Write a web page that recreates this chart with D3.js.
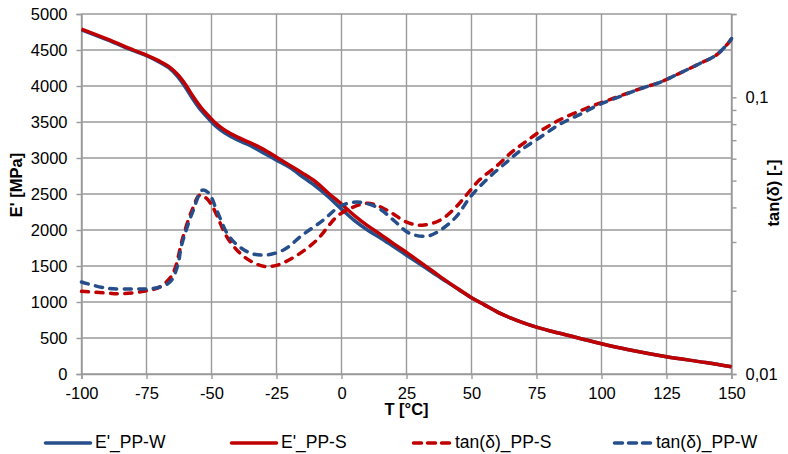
<!DOCTYPE html>
<html><head><meta charset="utf-8">
<script src="https://cdn.jsdelivr.net/npm/d3@7"></script>
<style>body{margin:0;background:#fff}svg{display:block}text{font-family:"Liberation Sans",Arial,sans-serif;fill:#000}</style>
</head><body><svg id="c" width="788" height="454"></svg>
<script>
// E' (MPa) data: [T, value]
const ePPW = [[-100,4780],[-90,4640],[-80,4490],[-75,4420],[-70,4330],[-66,4240],[-63,4130],[-60,3980],[-57,3810],[-54,3660],[-51,3540],[-48,3430],[-45,3350],[-40,3250],[-35,3170],[-30,3070],[-25,2970],[-20,2870],[-15,2740],[-10,2610],[-5,2460],[0,2290],[5,2130],[10,2000],[15,1890],[20,1770],[25,1650],[30,1530],[35,1410],[40,1290],[45,1175],[50,1060],[55,960],[60,860],[65,780],[70,710],[75,650],[80,600],[90,510],[100,420],[110,340],[125,240],[140,160],[150,100]];
const ePPS = [[-100,4790],[-90,4650],[-80,4500],[-75,4430],[-70,4345],[-66,4260],[-63,4160],[-60,4020],[-57,3850],[-54,3700],[-51,3580],[-48,3470],[-45,3390],[-40,3290],[-35,3210],[-30,3120],[-25,3010],[-20,2900],[-15,2790],[-10,2670],[-5,2510],[0,2360],[5,2200],[10,2060],[15,1940],[20,1810],[25,1690],[30,1560],[35,1430],[40,1300],[45,1180],[50,1060],[55,960],[60,860],[65,780],[70,710],[75,650],[80,600],[90,510],[100,420],[110,340],[125,240],[140,160],[150,100]];
// tan(delta) data: [T, value]
const tanPPS = [[-100,0.0199],[-90,0.0196],[-85,0.0195],[-76,0.0199],[-70,0.0206],[-66,0.0222],[-64,0.0241],[-61,0.0312],[-57.5,0.0391],[-54.5,0.0443],[-52,0.0432],[-49.5,0.0401],[-44,0.0312],[-39,0.0273],[-35,0.0256],[-30,0.0245],[-25,0.0247],[-17,0.0269],[-9.5,0.0305],[-2,0.0369],[2,0.0391],[10,0.0414],[17.5,0.0391],[25,0.0354],[31,0.0345],[38,0.0360],[44,0.0401],[48,0.0443],[53,0.0502],[60,0.0568],[65,0.0628],[70,0.0682],[77,0.0760],[84,0.0830],[92,0.0895],[99,0.0950],[107,0.1010],[115,0.1075],[122.5,0.1133],[130,0.1221],[138,0.1327],[144,0.1418],[149,0.158],[150,0.163]];
const tanPPW = [[-100,0.0215],[-90,0.0204],[-80,0.0203],[-72,0.0204],[-66,0.0215],[-63,0.0247],[-61.5,0.0292],[-57,0.0391],[-53.5,0.0462],[-51,0.0450],[-48,0.0391],[-43,0.0312],[-36,0.0276],[-30,0.0269],[-22.5,0.0280],[-15,0.0318],[-7,0.0360],[-0.5,0.0404],[6,0.0418],[13.5,0.0401],[20,0.0360],[26,0.0323],[33,0.0315],[38,0.0331],[44,0.0369],[49.5,0.0436],[56,0.0506],[63.5,0.0583],[69,0.0644],[77,0.0723],[84,0.0800],[92,0.0870],[99,0.0940],[107,0.1005],[115,0.1075],[122.5,0.1133],[130,0.1221],[138,0.1327],[144,0.1418],[149,0.158],[150,0.163]];
const xTicks = [-100,-75,-50,-25,0,25,50,75,100,125,150];
const yTicks = [0,500,1000,1500,2000,2500,3000,3500,4000,4500,5000];
const rMajor = [0.01,0.1];
const rMinor = [0.02,0.03,0.04,0.05,0.06,0.07,0.08,0.09,0.2];
const legendItems = [
  {name:"E'_PP-W", color:"#254E8A", dash:false},
  {name:"E'_PP-S", color:"#C00000", dash:false},
  {name:"tan(δ)_PP-S", color:"#C00000", dash:true},
  {name:"tan(δ)_PP-W", color:"#254E8A", dash:true}
];
const legendX = [44, 230, 412, 613];

const L=81.5, R=731.5, T=14, B=374;
const svg = d3.select("#c");
const x = d3.scaleLinear().domain([-100,150]).range([L,R]);
const y = d3.scaleLinear().domain([0,5000]).range([B,T]);
const yr = d3.scaleLog().domain([0.01,0.2]).range([B,T]);
const grid = "#9A9A9A";

// gridlines
svg.append("g").selectAll("line").data(xTicks).join("line")
  .attr("x1",d=>x(d)).attr("x2",d=>x(d)).attr("y1",T).attr("y2",B)
  .attr("stroke",grid).attr("stroke-width",1.4);
svg.append("g").selectAll("line").data(yTicks).join("line")
  .attr("x1",L).attr("x2",R).attr("y1",d=>y(d)).attr("y2",d=>y(d))
  .attr("stroke",grid).attr("stroke-width",1.4);

// axes
const fs = 16.5;
const ax = svg.append("g").attr("transform",`translate(0,${B})`).call(d3.axisBottom(x).tickValues(xTicks).tickSize(5).tickPadding(5).tickFormat(d=>d));
const ay = svg.append("g").attr("transform",`translate(${L},0)`).call(d3.axisLeft(y).tickValues(yTicks).tickSize(5).tickPadding(9).tickFormat(d=>d));
const ar = svg.append("g").attr("transform",`translate(${R},0)`).call(d3.axisRight(yr).tickValues(rMajor.concat(rMinor)).tickSize(5).tickPadding(9).tickFormat(d=>rMajor.includes(d)?String(d).replace(".",","):""));
[ax,ay,ar].forEach(g=>{
  g.selectAll("path.domain").attr("stroke",grid).attr("stroke-width",1.4);
  g.selectAll(".tick line").attr("stroke",grid).attr("stroke-width",1.4);
  g.selectAll("text").attr("font-size",fs).attr("font-family","Liberation Sans, Arial, sans-serif").attr("fill","#000");
});
ax.selectAll("text").attr("dy","0.9em");

// titles
svg.append("text").attr("x",(L+R)/2).attr("y",411).attr("text-anchor","middle").attr("dominant-baseline","middle")
  .attr("font-size",16.5).attr("font-weight","bold").text("T [°C]");
svg.append("text").attr("transform","translate(18,185) rotate(-90)").attr("text-anchor","middle").attr("dominant-baseline","middle")
  .attr("font-size",16.5).attr("font-weight","bold").text("E' [MPa]");
svg.append("text").attr("transform","translate(775,193) rotate(-90)").attr("text-anchor","middle").attr("dominant-baseline","middle")
  .attr("font-size",16.5).attr("font-weight","bold").text("tan(δ) [-]");

// lines
const curve = d3.curveCatmullRom.alpha(0.5);
const lineE = d3.line().x(d=>x(d[0])).y(d=>y(d[1])).curve(curve);
const lineT = d3.line().x(d=>x(d[0])).y(d=>yr(d[1])).curve(curve);
const plot = svg.append("g");
plot.append("path").datum(ePPW).attr("d",lineE).attr("fill","none").attr("stroke","#254E8A").attr("stroke-width",3.5);
plot.append("path").datum(ePPS).attr("d",lineE).attr("fill","none").attr("stroke","#C00000").attr("stroke-width",3.5);
plot.append("path").datum(tanPPS).attr("d",lineT).attr("fill","none").attr("stroke","#C00000").attr("stroke-width",3.5).attr("stroke-dasharray","7,7.5").attr("stroke-linecap","round");
plot.append("path").datum(tanPPW).attr("d",lineT).attr("fill","none").attr("stroke","#254E8A").attr("stroke-width",3.5).attr("stroke-dasharray","7,7.5").attr("stroke-linecap","round");

// legend
const lg = svg.append("g");
legendItems.forEach((it,i)=>{
  const lx = legendX[i];
  const w = it.dash ? 40 : 48;
  lg.append("line").attr("x1",lx+1.5).attr("x2",lx+w-1.5).attr("y1",443).attr("y2",443)
    .attr("stroke",it.color).attr("stroke-width",3.5).attr("stroke-linecap","round")
    .attr("stroke-dasharray",it.dash?"8,6":null);
  lg.append("text").attr("x",lx+w+3).attr("y",443).attr("dominant-baseline","middle")
    .attr("font-size",17.5).text(it.name);
});
</script></body></html>
